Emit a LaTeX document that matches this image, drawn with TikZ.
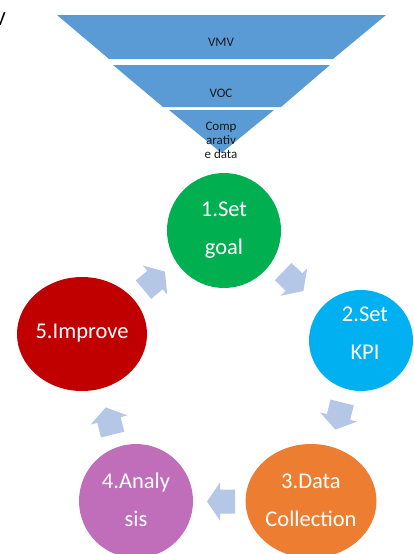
\documentclass[tikz,border=0pt]{standalone}
\usepackage{fontspec}
\setmainfont{Carlito}
\usetikzlibrary{shapes.geometric}
\definecolor{funnelc}{HTML}{5B9BD5}
\definecolor{arrowc}{HTML}{B4C7E7}
\definecolor{greenc}{HTML}{00B050}
\definecolor{bluec}{HTML}{00B0F0}
\definecolor{orangec}{HTML}{ED7D31}
\definecolor{purplec}{HTML}{C06EBA}
\definecolor{redc}{HTML}{C00000}
\begin{document}
\begin{tikzpicture}[x=1pt,y=1pt,
  blob/.style={ellipse, draw=none, inner sep=0pt},
  ctext/.style={text=white, inner sep=0pt, font=\fontsize{22.5}{38}\selectfont, align=center},
  ftext/.style={text=black!90, inner sep=0pt, font=\fontsize{13}{14}\selectfont, align=center},
  band/.style={fill=funnelc, draw=none},
  barrow/.pic={\fill[arrowc] (-15,-12) -- (0,-12) -- (0,-19) -- (13,0) -- (0,19) -- (0,12) -- (-15,12) -- cycle;}
]
\useasboundingbox (0,0) rectangle (414,-554);
% stray letter at top-left
\node[inner sep=0pt, font=\fontsize{20}{20}\selectfont] (stray) at (0,-19) {V};
% funnel
\fill[band] (57,-15) -- (386,-15) -- (333,-59) -- (109,-59) -- cycle;
\fill[band] (113,-65) -- (330,-65) -- (281,-107) -- (163,-107) -- cycle;
\fill[band] (169,-110) -- (274,-110) -- (221.5,-153) -- cycle;
\node[ftext] (vmv) at (221,-42) {VMV};
\node[ftext] (voc) at (221,-93) {VOC};
\node[ftext] (comp) at (221,-140) {Comp\\arativ\\e data};
% circles
\node[blob, fill=greenc, minimum width=114, minimum height=115] (c1) at (224,-230.5) {};
\node[blob, fill=bluec, minimum width=104, minimum height=101] (c2) at (361,-340.5) {};
\node[blob, fill=orangec, minimum width=131, minimum height=114] (c3) at (311,-501) {};
\node[blob, fill=purplec, minimum width=114, minimum height=114] (c4) at (136,-501) {};
\node[blob, fill=redc, minimum width=130, minimum height=114] (c5) at (82,-334) {};
\node[ctext] (t1) at (224,-230) {1.Set\\goal};
\node[ctext] (t2) at (365,-333) {2.Set\\KPI};
\node[ctext] (t3) at (311,-500.5) {3.Data\\Collection};
\node[ctext] (t4) at (136,-500) {4.Analy\\sis};
\node[ctext] (t5) at (82,-333) {5.Improve};
% block arrows
\pic[rotate=40] (a51) at (155,-280) {barrow};
\pic[rotate=-44] (a12) at (294,-282) {barrow};
\pic[rotate=-104] (a23) at (338.5,-417) {barrow};
\pic[rotate=180] (a34) at (220,-501.5) {barrow};
\pic[rotate=104] (a45) at (109,-420) {barrow};
\end{tikzpicture}
\end{document}
